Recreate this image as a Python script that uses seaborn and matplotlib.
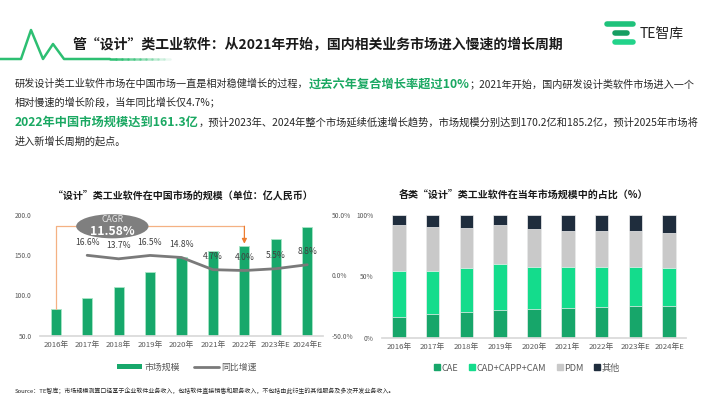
import numpy as np
import pandas as pd
import matplotlib
matplotlib.use('Agg')
import matplotlib.pyplot as plt
from matplotlib.patches import Ellipse, Patch
from matplotlib.lines import Line2D
import seaborn as sns

# data
years = ['2016年', '2017年', '2018年', '2019年', '2020年', '2021年', '2022年', '2023年E', '2024年E']
market = [83.5, 97.4, 110.7, 129.0, 148.1, 155.1, 161.3, 170.2, 185.2]
growth = [16.6, 13.7, 16.5, 14.8, 4.7, 4.0, 5.5, 8.8]  # 2017..2024E
cagr_text = '11.58%'

share_cae = [16.8, 19.0, 20.9, 22.8, 23.6, 24.4, 25.2, 25.5, 26.0]
share_cad = [37.4, 35.5, 36.0, 36.9, 34.4, 33.1, 32.3, 32.5, 31.2]
share_pdm = [37.7, 35.5, 32.8, 31.9, 30.4, 29.8, 29.8, 28.7, 28.5]
share_other = [8.1, 10.0, 10.3, 8.4, 11.6, 12.7, 12.7, 13.3, 14.3]

sns.set_theme(style='white')
plt.rcParams['font.family'] = ['Noto Sans CJK SC', 'DejaVu Sans']

W, H = 710, 399
fig = plt.figure(figsize=(W / 100, H / 100), dpi=100)
renderer = fig.canvas.get_renderer()

GREEN = '#17a86b'
TXT = '#262626'
GRAY = '#595959'


def fx(px):
    return px / W


def fy(py):
    return 1 - py / H


# header decoration
pulse_x = [0, 21, 31, 43, 53, 64, 110]
pulse_y = [59, 59, 30, 59, 44, 59, 59]
fig.add_artist(Line2D([fx(v) for v in pulse_x], [fy(v) for v in pulse_y], color='#2dbf72', lw=1.8))
for i in range(10):
    fig.add_artist(Line2D([fx(110 + i * 6), fx(116 + i * 6)], [fy(59), fy(59)],
                          color='#2dbf72', lw=1.8, alpha=1 - i / 10))

fig.text(fx(73), fy(45), '管“设计”类工业软件：从2021年开始，国内相关业务市场进入慢速的增长周期',
         fontsize=10, fontweight='bold', color='#1a1a1a', va='center')

# logo
fig.add_artist(Line2D([fx(607), fx(633)], [fy(24), fy(24)], color='#1fc27b', lw=4, solid_capstyle='round'))
fig.add_artist(Line2D([fx(615), fx(627)], [fy(33), fy(33)], color='#169e62', lw=4, solid_capstyle='round'))
fig.add_artist(Line2D([fx(615), fx(633)], [fy(42), fy(42)], color='#22d38a', lw=4, solid_capstyle='round'))
fig.text(fx(640), fy(34), 'TE智库', fontsize=10, color='#222222', va='center')


def runs(y, pieces, x0=15):
    x = x0
    for s, size, bold, color in pieces:
        t = fig.text(fx(x), fy(y), s, fontsize=size, fontweight='bold' if bold else 'normal',
                     color=color, va='center', ha='left')
        x += t.get_window_extent(renderer).width


runs(84, [('研发设计类工业软件市场在中国市场一直是相对稳健增长的过程，', 7.3, False, TXT),
          ('过去六年复合增长率超过10%', 8.8, True, '#1aa862'),
          ('；2021年开始，国内研发设计类软件市场进入一个', 7.3, False, TXT)])
runs(102, [('相对慢速的增长阶段，当年同比增长仅4.7%；', 7.3, False, TXT)])
runs(122, [('2022年中国市场规模达到161.3亿', 8.8, True, '#1aa862'),
           ('，预计2023年、2024年整个市场延续低速增长趋势，市场规模分别达到170.2亿和185.2亿，预计2025年市场将', 7.4, False, TXT)])
runs(141, [('进入新增长周期的起点。', 7.3, False, TXT)])

# left chart
ax = fig.add_axes([fx(40), fy(335.7), fx(283), 120.7 / H])
sns.barplot(x=years, y=market, ax=ax, color=GREEN, width=0.32, saturation=1,
            edgecolor='#a8e6c6', linewidth=0.6)
ax.set_ylim(50, 200)
ax.set_yticks([50, 100, 150, 200])
ax.set_yticklabels([f'{v:.1f}' for v in [50, 100, 150, 200]])
ax.set_xlim(-0.5, 8.5)
ax.tick_params(axis='y', labelsize=4.8, colors=GRAY, length=0, pad=6)
ax.tick_params(axis='x', labelsize=5.6, colors=GRAY, length=0, pad=4)
for s in ['top', 'left', 'right']:
    ax.spines[s].set_visible(False)
ax.spines['bottom'].set_color('#d9d9d9')
ax.set_xlabel('')
ax.set_ylabel('')

ax2 = ax.twinx()
sns.lineplot(x=np.arange(1, len(years)), y=growth, ax=ax2, color='#7a7a7a', lw=2)
ax2.set_ylim(-50, 50)
ax2.set_yticks([-50, 0, 50])
ax2.set_yticklabels([f'{v:.1f}%' for v in [-50, 0, 50]])
ax2.tick_params(axis='y', labelsize=4.8, colors=GRAY, length=0, pad=6)
for s in ['top', 'left', 'right', 'bottom']:
    ax2.spines[s].set_visible(False)
ax2.set_xlim(-0.5, 8.5)
for i, g in enumerate(growth):
    ax2.annotate(f'{g}%', (i + 1, g), xytext=(0, 6), textcoords='offset points',
                 ha='center', va='bottom', fontsize=6.2, color='#404040')

# CAGR callout
ax.plot([0, 0, 6], [market[0], 186, 186], color='#f4b183', lw=0.9, clip_on=False, zorder=5)
ax.annotate('', xy=(6, market[6] + 3), xytext=(6, 186),
            arrowprops=dict(arrowstyle='-|>', color='#ed7d31', lw=0.9, mutation_scale=7,
                            shrinkA=0, shrinkB=0), zorder=5)
ax.add_patch(Ellipse((1.8, 186), 2.3, 30, facecolor='#7f7f7f', edgecolor='none',
                     clip_on=False, zorder=6))
ax.text(1.8, 194, 'CAGR', ha='center', va='center', fontsize=6.2, color='#e8e8e8', zorder=7)
ax.text(1.8, 179, cagr_text, ha='center', va='center', fontsize=8.8, fontweight='bold',
        color='white', zorder=7)

fig.text(fx(183), fy(195), '“设计”类工业软件在中国市场的规模（单位：亿人民币）',
         fontsize=7.2, fontweight='bold', color='#1a1a1a', ha='center', va='center')
fig.legend(handles=[Patch(facecolor=GREEN, edgecolor='none'),
                    Line2D([0], [0], color='#7a7a7a', lw=2)],
           labels=['市场规模', '同比增速'], loc='center', bbox_to_anchor=(fx(187), fy(367)),
           ncol=2, frameon=False, fontsize=6.4, labelcolor=GRAY, handlelength=2.8,
           handleheight=0.5, columnspacing=1.5, handletextpad=0.3)

# right chart: stacked shares drawn as overlapping cumulative bars
ax3 = fig.add_axes([fx(382), fy(337.7), fx(304), 122.7 / H])
cum_cae = np.array(share_cae)
cum_cad = cum_cae + np.array(share_cad)
cum_pdm = cum_cad + np.array(share_pdm)
cum_all = cum_pdm + np.array(share_other)
layers = [(cum_all, '#1f2d3d'), (cum_pdm, '#c9c9c9'), (cum_cad, '#14dc8c'), (cum_cae, '#17a66a')]
for vals, col in layers:
    sns.barplot(x=years, y=vals, ax=ax3, color=col, width=0.4, saturation=1,
                edgecolor='#f2f2f2', linewidth=0.5)
ax3.set_ylim(0, 100)
ax3.set_xlim(-0.5, 8.5)
ax3.set_yticks([0, 50, 100])
ax3.set_yticklabels(['0%', '50%', '100%'])
ax3.tick_params(axis='y', labelsize=4.8, colors=GRAY, length=0, pad=6)
ax3.tick_params(axis='x', labelsize=5.6, colors=GRAY, length=0, pad=4)
for s in ['top', 'left', 'right']:
    ax3.spines[s].set_visible(False)
ax3.spines['bottom'].set_color('#d9d9d9')
ax3.set_xlabel('')
ax3.set_ylabel('')

fig.text(fx(523), fy(195), '各类“设计”类工业软件在当年市场规模中的占比（%）',
         fontsize=7.2, fontweight='bold', color='#1a1a1a', ha='center', va='center')
sq = dict(marker='s', linestyle='none', markersize=4)
fig.legend(handles=[Line2D([0], [0], color='#17a66a', **sq),
                    Line2D([0], [0], color='#14dc8c', **sq),
                    Line2D([0], [0], color='#c9c9c9', **sq),
                    Line2D([0], [0], color='#1f2d3d', **sq)],
           labels=['CAE', 'CAD+CAPP+CAM', 'PDM', '其他'], loc='center',
           bbox_to_anchor=(fx(527), fy(368)), ncol=4, frameon=False, fontsize=6.6,
           labelcolor=GRAY, handlelength=0.6, handletextpad=0.2, columnspacing=1.2)

fig.text(fx(15), fy(391), 'Source：TE智库；市场规模测算口径基于企业软件业务收入，包括软件直接销售和服务收入，不包括由此衍生的其他服务及多次开发业务收入。',
         fontsize=4.3, color='#262626', va='center')

fig.savefig('out.png', dpi=100)
